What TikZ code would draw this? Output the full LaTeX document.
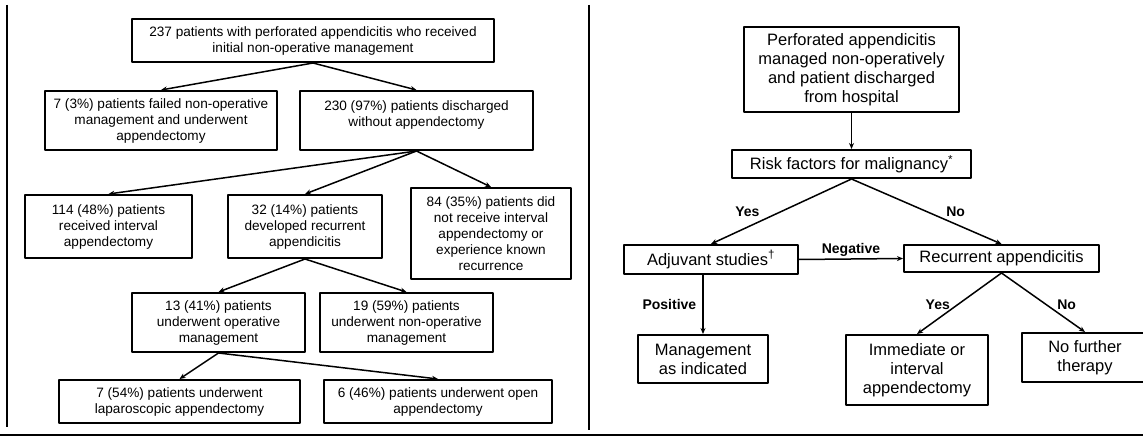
\documentclass[tikz,border=0pt]{standalone}
\usepackage{fontspec}
\setmainfont{Liberation Sans}
\usetikzlibrary{arrows.meta}
\begin{document}
\begin{tikzpicture}[x=1pt, y=-1pt, line join=round, >={Stealth[length=6pt,width=5pt]},
	box/.style={draw, line width=2pt, align=center, inner sep=2pt},
	lbox/.style={box, font=\fontsize{13.6}{16}\selectfont},
	rbox/.style={box, font=\fontsize{16.5}{19}\selectfont},
	arr/.style={->, line width=1.5pt},
	lab/.style={font=\fontsize{14}{16}\selectfont\bfseries, inner sep=1pt}]
	\useasboundingbox (0,0) rectangle (1143,438);
	\clip (0,0) rectangle (1143,438);
	% frame lines
	\draw[line width=1.5pt] (7,5)--(7,427) (589,5)--(589,430);
	\draw[line width=2pt] (0,435)--(1143,435);
	% left panel
	\node[lbox, minimum width=362, minimum height=43] (n237) at (313,40.5) {237 patients with perforated appendicitis who received\\initial non-operative management};
	\node[lbox, minimum width=232, minimum height=59] (fail) at (161,120.5) {7 (3\%) patients failed non-operative\\management and underwent\\appendectomy};
	\node[lbox, minimum width=233, minimum height=59, text height=34pt, text depth=21pt] (disch) at (416.5,120.5) {230 (97\%) patients discharged\\without appendectomy};
	\node[lbox, minimum width=167, minimum height=63] (inter) at (108.5,226.5) {114 (48\%) patients\\received interval\\appendectomy};
	\node[lbox, minimum width=154, minimum height=63] (recur) at (305,226.5) {32 (14\%) patients\\developed recurrent\\appendicitis};
	\node[lbox, minimum width=160, minimum height=91] (none) at (491,233.5) {84 (35\%) patients did\\not receive interval\\appendectomy or\\experience known\\recurrence};
	\node[lbox, minimum width=173, minimum height=59] (oper) at (218.5,322.5) {13 (41\%) patients\\underwent operative\\management};
	\node[lbox, minimum width=173, minimum height=59] (nonop) at (406.5,322.5) {19 (59\%) patients\\underwent non-operative\\management};
	\node[lbox, minimum width=241, minimum height=43] (lap) at (179.5,401.5) {7 (54\%) patients underwent\\laparoscopic appendectomy};
	\node[lbox, minimum width=228, minimum height=43] (open) at (438,401.5) {6 (46\%) patients underwent open\\appendectomy};
	\foreach \a/\b in {n237/fail, n237/disch, disch/inter, disch/recur, disch/none, recur/oper, recur/nonop, oper/lap, oper/open}
		\draw[arr] (\a.south) -- (\b.north);
	% right panel
	\node[rbox, minimum width=215, minimum height=85] (perf) at (851.5,69.5) {Perforated appendicitis\\managed non-operatively\\and patient discharged\\from hospital};
	\node[rbox, minimum width=239, minimum height=28] (risk) at (851.5,164) {Risk factors for malignancy\textsuperscript{*}};
	\node[rbox, minimum width=174, minimum height=29] (adj) at (711,259.5) {Adjuvant studies\textsuperscript{†}};
	\node[rbox, minimum width=195, minimum height=27] (rec) at (1001.5,258.5) {Recurrent appendicitis};
	\node[rbox, minimum width=130, minimum height=48] (mgmt) at (703,359) {Management\\as indicated};
	\node[rbox, minimum width=142, minimum height=70] (imm) at (917,370) {Immediate or\\interval\\appendectomy};
	\node[rbox, minimum width=126, minimum height=49] (nofur) at (1085,357.5) {No further\\therapy};
	\draw[arr] (perf.south) -- (risk.north);
	\draw[arr] (risk.south) -- node[lab, pos=0.5, left=20pt] {Yes} (adj.north);
	\draw[arr] (risk.south) -- node[lab, pos=0.5, right=18pt] {No} (rec.north);
	\draw[arr] (adj.east) -- node[lab, above=1pt] {Negative} (rec.west);
	\draw[arr] (mgmt.north |- adj.south) -- node[lab, left=5pt] {Positive} (mgmt.north);
	\draw[arr] (rec.south) -- node[lab, pos=0.52, left=6pt] {Yes} (imm.north);
	\draw[arr] (rec.south) -- node[lab, pos=0.54, right=9pt] {No} (nofur.north);
\end{tikzpicture}
\end{document}
